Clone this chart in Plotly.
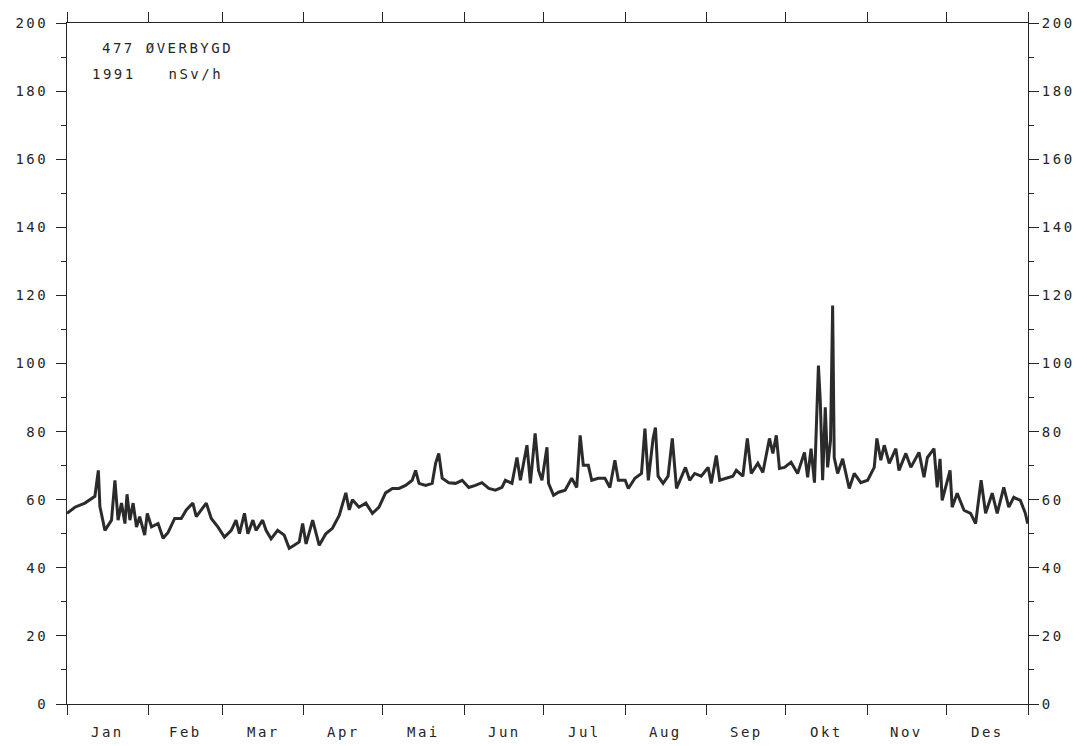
import plotly.graph_objects as go

# Day of year (1991) and dose rate readings in nSv/h
days = [0, 3.0, 6.8, 10.6, 11.9, 12.5, 14.4, 16.9, 18.2, 19.4, 20.7, 22.0, 22.8, 23.9, 25.1, 26.4, 27.6,
        29.5, 30.5, 32.1, 34.6, 36.5, 38.4, 40.9, 43.4, 45.3, 47.8, 49.1, 51.0, 52.9, 54.8, 57.3, 59.8,
        62.4, 64.2, 65.5, 67.4, 68.7, 70.6, 71.8, 74.3, 75.6, 77.5, 80.0, 82.5, 84.4, 86.3, 88.2, 89.5,
        90.8, 93.3, 95.8, 98.3, 100.8, 103.4, 105.9, 107.2, 108.4, 110.9, 113.5, 116.0, 118.5, 121.0,
        123.6, 126.1, 128.6, 131.1, 132.4, 133.7, 136.2, 138.7, 140.0, 141.2, 142.5, 145.0, 147.6, 150.1,
        152.6, 155.1, 157.6, 160.2, 162.7, 165.2, 166.5, 169.0, 170.9, 172.2, 174.7, 176.0, 177.8, 179.1,
        180.4, 182.3, 182.9, 184.8, 186.7, 189.2, 191.7, 193.6, 194.9, 196.1, 198.0, 199.3, 201.8, 204.3,
        206.2, 208.1, 209.4, 212.0, 213.2, 215.7, 218.2, 219.5, 220.8, 222.6, 223.5, 224.5, 226.4, 228.3,
        229.9, 231.5, 233.4, 234.9, 236.5, 238.4, 240.9, 243.5, 244.7, 246.6, 247.9, 250.4, 252.9, 254.2,
        256.7, 258.4, 259.9, 262.4, 264.3, 266.8, 268.1, 269.4, 270.6, 272.5, 275.0, 277.5, 280.1, 281.3,
        282.6, 283.9, 285.4, 286.1, 287.0, 288.0, 288.9, 290.0, 290.8, 291.4, 292.7, 294.6, 297.1, 299.0,
        301.5, 304.1, 306.6, 307.6, 309.1, 310.4, 312.3, 314.8, 316.0, 318.6, 320.5, 323.6, 325.5, 326.8,
        329.3, 330.5, 331.6, 332.4, 335.4, 336.2, 338.1, 340.7, 343.2, 345.1, 347.2, 348.9, 351.4, 353.3,
        355.8, 357.7, 359.6, 362.1, 364.0, 364.9]

values = [56, 57.8, 59, 61, 68.6, 58, 51, 54, 65.7, 54, 59, 53, 61.6, 54, 59, 52, 55,
          49.6, 56, 52, 53, 48.7, 50.4, 54.5, 54.5, 57, 59, 55, 57, 59, 54.5, 52, 49,
          51, 54, 50, 56, 50, 54, 51, 54, 51, 48.5, 51, 49.6, 45.7, 46.6, 47.6, 53,
          47, 54, 46.6, 50, 51.6, 55.4, 62, 57, 60, 57.8, 59, 56, 57.8, 62,
          63.3, 63.3, 64.2, 65.7, 68.6, 64.8, 64.2, 64.8, 70.7, 73.6, 66.3, 65, 64.8, 65.7,
          63.6, 64.2, 65, 63.3, 62.8, 63.6, 65.7, 64.8, 72.4, 65.7, 76, 64.8, 79.5, 68.6,
          65.7, 75.4, 64.8, 61.3, 62.2, 62.8, 66.3, 63.6, 78.9, 70.1, 70.1, 65.7, 66.3, 66.3,
          63.6, 71.6, 65.7, 65.7, 63.3, 66.3, 67.7, 80.9, 65.7, 78, 81.2, 66.9, 64.8, 66.9,
          78, 63.3, 66.9, 69.5, 65.7, 67.7, 66.9, 69.5, 64.8, 73, 65.7, 66.3, 66.9, 68.6,
          66.9, 78, 67.7, 70.7, 68, 78, 73.6, 78.9, 69.2, 69.5, 71, 67.7, 73.9, 66.6,
          75, 65, 99.4, 89.1, 65.7, 87.1, 69.5, 77.4, 117, 72.4, 67.7, 72, 63.3, 67.7,
          65, 65.7, 69.5, 78, 71.6, 76, 70.7, 75, 68.6, 73.6, 69.5, 73.9, 66.6, 72.4,
          75, 63.6, 72, 59.8, 68.6, 57.8, 61.9, 56.9, 56, 53, 65.7, 56, 61.9, 56,
          63.6, 57.8, 60.7, 59.8, 56, 53]

month_starts = [0, 31, 59, 90, 120, 151, 181, 212, 243, 273, 304, 334, 365]
month_labels = ["Jan", "Feb", "Mar", "Apr", "Mai", "Jun", "Jul", "Aug", "Sep", "Okt", "Nov", "Des"]
y_ticks = [0, 20, 40, 60, 80, 100, 120, 140, 160, 180, 200]

FONT = "DejaVu Sans Mono"
SP = '<span style="letter-spacing:2.5px">{}</span>'
INK = "#262626"

fig = go.Figure()
fig.add_trace(go.Scatter(x=days, y=values, mode="lines",
                         line=dict(color="#2b2b2b", width=3), showlegend=False))
# invisible trace for right axis
fig.add_trace(go.Scatter(x=[0], y=[0], yaxis="y2", mode="markers",
                         marker=dict(opacity=0), showlegend=False, hoverinfo="skip"))

axis_common = dict(showgrid=False, zeroline=False, showline=True, linecolor=INK, linewidth=1,
                   ticks="outside", tickcolor=INK, tickwidth=1)

fig.update_layout(
    width=1087, height=746,
    margin=dict(l=67, r=56, t=21, b=42),
    paper_bgcolor="white", plot_bgcolor="white",
    font=dict(family=FONT, size=14, color=INK),
    xaxis=dict(range=[0, 365], tickvals=month_starts, ticktext=[""] * len(month_starts),
               ticklen=10, mirror="ticks", **axis_common),
    yaxis=dict(range=[0, 200], tickvals=y_ticks, ticktext=[SP.format(v) for v in y_ticks],
               ticklen=10, ticklabelstandoff=5,
               minor=dict(dtick=10, ticklen=5, ticks="outside", tickcolor=INK),
               **axis_common),
    yaxis2=dict(range=[0, 200], overlaying="y", side="right", anchor="x",
                tickvals=y_ticks, ticktext=[SP.format(v) for v in y_ticks],
                ticklen=10, minor=dict(dtick=10, ticklen=5, ticks="outside", tickcolor=INK),
                **axis_common),
)

annotations = []
for i, m in enumerate(month_labels):
    mid = (month_starts[i] + month_starts[i + 1]) / 2
    annotations.append(dict(x=mid, y=0, xref="x", yref="y", yshift=-28, showarrow=False,
                            text=SP.format(m), font=dict(family=FONT, size=14, color=INK)))
annotations.append(dict(x=100, y=46, xref="paper", yref="paper", showarrow=False, xanchor="left",
                        yanchor="middle", text=SP.format("477 ØVERBYGD"),
                        font=dict(family=FONT, size=14, color=INK)))
annotations.append(dict(x=90, y=72, xref="paper", yref="paper", showarrow=False, xanchor="left",
                        yanchor="middle", text=SP.format("1991   nSv/h"),
                        font=dict(family=FONT, size=14, color=INK)))
# convert pixel positions of header texts to paper coordinates
for a in annotations[-2:]:
    a["x"] = (a["x"] - 67) / (1087 - 67 - 56)
    a["y"] = 1 - (a["y"] - 21) / (746 - 21 - 42)
fig.update_layout(annotations=annotations)

fig.write_html("out.html")
